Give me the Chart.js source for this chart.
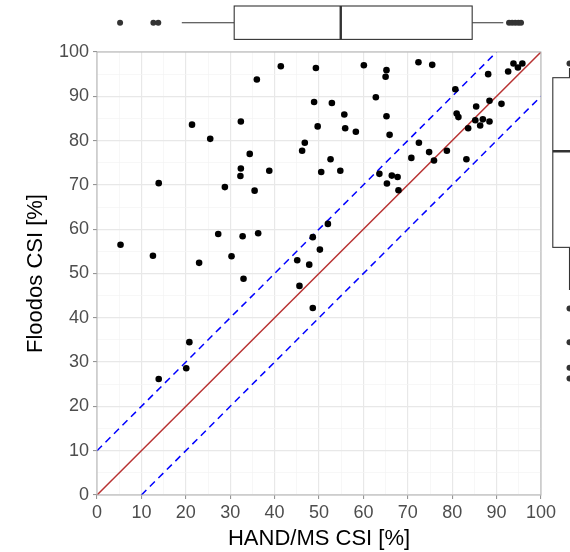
<!DOCTYPE html>
<html>
<head>
<meta charset="utf-8">
<script src="https://cdn.jsdelivr.net/npm/chart.js@4.4.1/dist/chart.umd.min.js"></script>
<style>
  html, body { margin: 0; padding: 0; background: #fff; }
  canvas { display: block; }
</style>
</head>
<body>
<canvas id="csiChart" width="570" height="552"></canvas>
<script>
// HAND/MS CSI (x) vs Floodos CSI (y), in percent
const handCsi = [
  41.4, 36.0, 48.9, 21.4, 32.4, 25.5, 46.8, 46.2, 34.4, 32.4, 32.3, 38.8, 13.9,
  28.8, 35.5, 27.3, 32.8, 36.3, 5.3, 12.6, 30.3, 23.0, 45.1, 47.8, 48.6, 49.3,
  60.1, 65.2, 65.0, 72.4, 75.5, 93.8, 94.8, 95.8, 92.6, 88.1, 80.7, 62.8, 52.9,
  91.1, 88.4, 85.4, 55.7, 65.2, 81.0, 81.4, 85.2, 86.9, 88.4, 86.3, 83.6, 49.7,
  55.9, 58.3, 65.9, 72.5, 78.8, 74.8, 75.9, 70.8, 83.2, 52.6, 50.5, 54.8, 63.6,
  66.4, 67.7, 65.3, 67.9, 52.0, 50.2,
  33.0, 45.6, 48.6, 20.8, 20.1, 13.9
];
const floodosCsi = [
  96.8, 93.8, 88.7, 83.6, 84.3, 80.4, 79.5, 77.7, 77.0, 73.7, 72.0, 73.2, 70.4,
  69.5, 68.7, 58.9, 58.4, 59.1, 56.5, 54.0, 53.9, 52.4, 53.0, 52.0, 58.2, 96.4,
  97.0, 95.9, 94.4, 97.7, 97.1, 97.4, 96.5, 97.4, 95.6, 95.0, 91.6, 89.8, 88.5,
  88.3, 89.0, 87.7, 85.9, 85.5, 86.1, 85.3, 84.6, 84.8, 84.3, 83.4, 82.8, 83.2,
  82.8, 82.0, 81.3, 79.5, 77.7, 77.4, 75.5, 76.1, 75.8, 75.8, 72.9, 73.2, 72.5,
  72.1, 71.8, 70.3, 68.8, 61.2, 55.4,
  48.8, 47.2, 42.2, 34.5, 28.6, 26.2
];

// reference lines y = x + offset (1:1 line and +/-10 % bands)
const oneToOneOffset = 0;
const bandOffsets = [10, -10];

// marginal boxplots: [whisker low, q1, median, q3, whisker high]
const handBox = [19.1, 30.9, 54.9, 84.5, 91.5];
const handOutliers = [5.2, 12.7, 13.8, 92.8, 93.5, 94.2, 94.9, 95.5];
const floodosBox = [46.3, 55.9, 77.6, 94.2, 96.4];
const floodosOutliers = [42.1, 34.5, 28.7, 26.3, 97.4];

const axisMin = 0, axisMax = 100;

function refLine(offset) {
  const x0 = Math.max(axisMin, axisMin - offset);
  const x1 = Math.min(axisMax, axisMax - offset);
  return [{ x: x0, y: x0 + offset }, { x: x1, y: x1 + offset }];
}

const points = handCsi.map((x, i) => ({ x: x, y: floodosCsi[i] }));

const boxColor = "#333333";

const marginalBoxes = {
  id: "marginalBoxes",
  afterDraw(chart) {
    const ctx = chart.ctx;
    const xs = chart.scales.x, ys = chart.scales.y;
    const area = chart.chartArea;
    ctx.save();

    // panel border
    ctx.strokeStyle = "#b3b3b3";
    ctx.lineWidth = 1;
    ctx.strokeRect(area.left, area.top, area.right - area.left, area.bottom - area.top);

    // top boxplot (x values)
    const cy = 22.7, hh = 16.7;
    const px = handBox.map(v => xs.getPixelForValue(v));
    ctx.strokeStyle = boxColor;
    ctx.fillStyle = "#ffffff";
    ctx.lineWidth = 1.1;
    ctx.beginPath();
    ctx.moveTo(px[0], cy); ctx.lineTo(px[1], cy);
    ctx.moveTo(px[3], cy); ctx.lineTo(px[4], cy);
    ctx.stroke();
    ctx.fillRect(px[1], cy - hh, px[3] - px[1], 2 * hh);
    ctx.strokeRect(px[1], cy - hh, px[3] - px[1], 2 * hh);
    ctx.lineWidth = 2.4;
    ctx.beginPath();
    ctx.moveTo(px[2], cy - hh); ctx.lineTo(px[2], cy + hh);
    ctx.stroke();
    ctx.fillStyle = boxColor;
    handOutliers.forEach(v => {
      ctx.beginPath();
      ctx.arc(xs.getPixelForValue(v), cy, 3, 0, Math.PI * 2);
      ctx.fill();
    });

    // right boxplot (y values), partly outside the canvas
    const cx = 569.5, hw = 16.7;
    const py = floodosBox.map(v => ys.getPixelForValue(v));
    ctx.fillStyle = "#ffffff";
    ctx.lineWidth = 1.1;
    ctx.beginPath();
    ctx.moveTo(cx, py[0]); ctx.lineTo(cx, py[1]);
    ctx.moveTo(cx, py[3]); ctx.lineTo(cx, py[4]);
    ctx.stroke();
    ctx.fillRect(cx - hw, py[3], 2 * hw, py[1] - py[3]);
    ctx.strokeRect(cx - hw, py[3], 2 * hw, py[1] - py[3]);
    ctx.lineWidth = 2.4;
    ctx.beginPath();
    ctx.moveTo(cx - hw, py[2]); ctx.lineTo(cx + hw, py[2]);
    ctx.stroke();
    ctx.fillStyle = boxColor;
    floodosOutliers.forEach(v => {
      ctx.beginPath();
      ctx.arc(cx, ys.getPixelForValue(v), 3, 0, Math.PI * 2);
      ctx.fill();
    });

    ctx.restore();
  }
};

function gridColor(c) {
  return c.tick && c.tick.value % 10 === 0 ? "#e8e8e8" : "#f3f3f3";
}
function gridWidth(c) {
  return c.tick && c.tick.value % 10 === 0 ? 1.2 : 0.7;
}
function tickMarkColor(c) {
  return c.tick && c.tick.value % 10 === 0 ? "#8a8a8a" : "rgba(0,0,0,0)";
}

const tickFont = { family: "'Liberation Sans', Arial, sans-serif", size: 18 };
const titleFont = { family: "'Liberation Sans', Arial, sans-serif", size: 22 };

new Chart(document.getElementById("csiChart").getContext("2d"), {
  type: "scatter",
  data: {
    datasets: [
      {
        label: "catchments",
        data: points,
        backgroundColor: "#000000",
        borderWidth: 0,
        pointRadius: 3.3,
        pointHoverRadius: 3.3,
      },
      {
        label: "1:1",
        type: "line",
        data: refLine(oneToOneOffset),
        borderColor: "#b83232",
        borderWidth: 1.5,
        pointRadius: 0,
        fill: false,
      },
      ...bandOffsets.map(o => ({
        label: "band " + o,
        type: "line",
        data: refLine(o),
        borderColor: "#0000ff",
        borderWidth: 1.5,
        borderDash: [7, 5],
        pointRadius: 0,
        fill: false,
      })),
    ],
  },
  options: {
    responsive: false,
    animation: false,
    layout: { padding: { top: 52, right: 29, left: 0, bottom: 0 } },
    plugins: {
      legend: { display: false },
      tooltip: { enabled: false },
    },
    scales: {
      x: {
        type: "linear",
        min: axisMin,
        max: axisMax,
        afterFit: s => { s.height = 57; },
        ticks: {
          stepSize: 5,
          autoSkip: false,
          maxRotation: 0,
          padding: 3,
          color: "#4d4d4d",
          font: tickFont,
          callback: v => (v % 10 === 0 ? v : ""),
        },
        grid: {
          color: gridColor,
          lineWidth: gridWidth,
          tickColor: tickMarkColor,
          tickLength: 4,
          tickWidth: 1,
        },
        border: { display: false },
        title: {
          display: true,
          text: "HAND/MS CSI [%]",
          color: "#000000",
          font: titleFont,
          padding: { top: 0, bottom: 0 },
        },
      },
      y: {
        type: "linear",
        min: axisMin,
        max: axisMax,
        afterFit: s => { s.width = 97; },
        ticks: {
          stepSize: 5,
          autoSkip: false,
          padding: 4,
          color: "#4d4d4d",
          font: tickFont,
          callback: v => (v % 10 === 0 ? v : ""),
        },
        grid: {
          color: gridColor,
          lineWidth: gridWidth,
          tickColor: tickMarkColor,
          tickLength: 4,
          tickWidth: 1,
        },
        border: { display: false },
        title: {
          display: true,
          text: "Floodos CSI [%]",
          color: "#000000",
          font: titleFont,
          padding: { top: 23, bottom: 0 },
        },
      },
    },
  },
  plugins: [marginalBoxes],
});
</script>
</body>
</html>
